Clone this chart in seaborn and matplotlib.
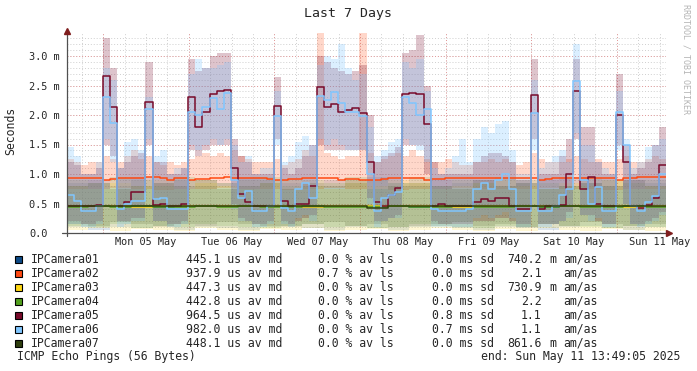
import numpy as np
import pandas as pd
import matplotlib
matplotlib.use("Agg")
import matplotlib.pyplot as plt
from matplotlib.patches import Rectangle
from matplotlib.lines import Line2D
import seaborn as sns

# --- values: 2 h bins from Sun 04 May 13:49 to Sun 11 May 13:49 ---
cameras = ["IPCamera01", "IPCamera02", "IPCamera03", "IPCamera04",
           "IPCamera05", "IPCamera06", "IPCamera07"]
colors = ["#0d4a86", "#ff4a12", "#ffd814", "#52a01e", "#780a2a", "#80c6ff", "#2f3e0e"]

# median lines (ms), 84 bins
cam05_med = [0.45, 0.45, 0.45, 0.45, 0.48, 2.66, 2.13, 0.45, 0.52, 0.70, 0.70, 2.22, 0.48, 0.50,
             0.45, 0.45, 0.50, 2.30, 1.80, 2.05, 2.35, 2.40, 2.42, 1.10, 0.66, 0.52, 0.45, 0.45,
             0.45, 2.15, 0.54, 0.45, 0.50, 0.50, 0.80, 2.47, 2.13, 2.18, 2.05, 2.08, 2.12, 2.04,
             1.20, 0.52, 0.45, 0.65, 0.77, 2.35, 2.37, 2.35, 1.85, 0.45, 0.50, 0.45, 0.45, 0.45,
             0.45, 0.53, 0.57, 0.55, 0.60, 0.60, 0.45, 0.40, 0.40, 2.34, 0.40, 0.45, 0.45, 0.48,
             1.00, 2.40, 0.75, 0.95, 0.50, 0.45, 0.45, 2.00, 1.20, 0.45, 0.42, 0.48, 0.60, 1.15]
cam06_med = [0.65, 0.55, 0.38, 0.38, 0.46, 2.30, 1.86, 0.40, 0.50, 0.54, 0.54, 2.10, 0.58, 0.60,
             0.40, 0.40, 0.40, 2.05, 2.00, 2.14, 2.28, 2.10, 2.37, 0.90, 0.60, 0.71, 0.38, 0.38,
             0.46, 1.98, 0.42, 0.38, 0.75, 0.85, 0.60, 2.33, 2.25, 2.39, 2.20, 2.05, 2.05, 1.98,
             1.00, 0.38, 0.60, 0.65, 0.70, 2.30, 2.20, 2.00, 2.10, 0.40, 0.38, 0.38, 0.38, 0.38,
             0.40, 0.75, 0.85, 0.75, 0.90, 1.00, 0.75, 0.38, 0.38, 2.03, 0.38, 0.38, 0.45, 0.65,
             0.75, 2.58, 0.90, 0.50, 0.78, 0.38, 0.38, 2.05, 1.50, 0.45, 0.38, 0.52, 0.62, 1.00]
cam02_med = [0.93, 0.93, 0.93, 0.93, 0.93, 0.90, 0.92, 0.93, 0.93, 0.94, 0.94, 0.95, 0.95, 0.93,
             0.90, 0.93, 0.93, 0.90, 0.92, 0.92, 0.94, 0.94, 0.95, 0.93, 0.93, 0.93, 0.93, 0.93,
             0.92, 0.90, 0.89, 0.92, 0.92, 0.94, 0.94, 0.94, 0.93, 0.93, 0.90, 0.92, 0.92, 0.89,
             0.89, 0.90, 0.91, 0.93, 0.93, 0.94, 0.94, 0.94, 0.90, 0.92, 0.92, 0.93, 0.93, 0.93,
             0.93, 0.93, 0.93, 0.93, 0.93, 0.93, 0.93, 0.93, 0.93, 0.93, 0.90, 0.92, 0.93, 0.93,
             0.93, 0.94, 0.94, 0.93, 0.93, 0.93, 0.93, 0.90, 0.94, 0.94, 0.95, 0.95, 0.95, 0.95]
# the quiet cameras, 6 h bins (28)
cam01_med = [0.45, 0.45, 0.45, 0.45, 0.44, 0.45, 0.45, 0.45, 0.45, 0.45, 0.45, 0.44, 0.45, 0.45,
             0.45, 0.45, 0.44, 0.45, 0.45, 0.45, 0.45, 0.45, 0.44, 0.45, 0.45, 0.45, 0.45, 0.45]
cam03_med = [0.45, 0.45, 0.45, 0.44, 0.45, 0.45, 0.45, 0.45, 0.45, 0.45, 0.45, 0.44, 0.45, 0.45,
             0.45, 0.45, 0.45, 0.45, 0.44, 0.45, 0.45, 0.45, 0.45, 0.45, 0.45, 0.45, 0.44, 0.45]
cam04_med = [0.44, 0.45, 0.44, 0.45, 0.44, 0.44, 0.45, 0.44, 0.45, 0.44, 0.44, 0.45, 0.44, 0.44,
             0.44, 0.45, 0.44, 0.44, 0.45, 0.44, 0.44, 0.45, 0.44, 0.45, 0.44, 0.44, 0.45, 0.44]
cam07_med = [0.45, 0.45, 0.46, 0.45, 0.45, 0.46, 0.45, 0.45, 0.45, 0.45, 0.46, 0.45, 0.45, 0.45,
             0.42, 0.45, 0.45, 0.46, 0.45, 0.45, 0.45, 0.46, 0.45, 0.45, 0.45, 0.46, 0.46, 0.46]

# smoke (ping spread), 84 bins
cam05_hi = [1.20, 1.15, 1.00, 1.00, 1.10, 3.30, 2.80, 1.10, 1.20, 1.30, 1.35, 2.90, 1.20, 1.20,
            1.00, 1.00, 1.10, 2.95, 2.75, 2.80, 3.00, 3.05, 3.05, 1.60, 1.30, 1.20, 1.00, 1.00,
            1.00, 2.65, 1.10, 1.00, 1.10, 1.30, 1.50, 3.00, 2.90, 2.80, 2.75, 2.70, 2.75, 2.85,
            2.00, 1.20, 1.30, 1.35, 1.45, 3.05, 3.10, 3.35, 2.50, 1.20, 1.00, 1.00, 1.00, 1.00,
            1.00, 1.20, 1.30, 1.35, 1.35, 1.30, 1.20, 0.90, 0.90, 2.95, 1.00, 1.00, 1.00, 1.30,
            1.60, 2.95, 1.80, 1.80, 1.20, 1.00, 1.00, 2.70, 1.50, 1.00, 1.10, 1.20, 1.50, 1.80]
cam05_lo = [0.20, 0.20, 0.15, 0.15, 0.20, 1.50, 1.30, 0.20, 0.20, 0.25, 0.25, 1.50, 0.20, 0.20,
            0.15, 0.15, 0.20, 1.40, 1.30, 1.40, 1.50, 1.50, 1.50, 0.50, 0.25, 0.20, 0.15, 0.15,
            0.20, 1.60, 0.20, 0.15, 0.20, 0.25, 0.30, 1.50, 1.40, 1.40, 1.40, 1.40, 1.40, 1.40,
            0.60, 0.20, 0.20, 0.25, 0.30, 1.50, 1.50, 1.50, 1.00, 0.20, 0.15, 0.15, 0.15, 0.15,
            0.15, 0.20, 0.20, 0.20, 0.25, 0.25, 0.20, 0.15, 0.15, 1.60, 0.15, 0.15, 0.15, 0.20,
            0.35, 1.60, 0.30, 0.30, 0.20, 0.15, 0.15, 1.50, 0.50, 0.15, 0.15, 0.20, 0.25, 0.35]
cam06_hi = [1.45, 1.30, 1.00, 1.00, 1.20, 2.80, 2.60, 1.10, 1.55, 1.60, 1.40, 2.30, 1.30, 1.40,
            1.00, 1.10, 1.10, 2.70, 2.95, 2.80, 2.80, 2.85, 2.90, 1.50, 1.20, 1.30, 1.00, 1.10,
            1.10, 2.40, 1.20, 1.30, 1.55, 1.65, 1.50, 2.85, 3.00, 2.95, 3.20, 2.80, 2.60, 2.70,
            1.80, 1.30, 1.40, 1.55, 1.60, 2.90, 2.80, 2.95, 2.40, 1.10, 1.00, 1.10, 1.30, 1.60,
            1.20, 1.60, 1.80, 1.70, 1.85, 1.90, 1.40, 1.00, 1.00, 2.60, 1.10, 1.20, 1.30, 1.40,
            1.20, 3.20, 1.50, 1.50, 1.20, 1.10, 1.00, 2.40, 1.60, 1.10, 1.20, 1.45, 1.50, 1.60]
cam06_lo = [0.15, 0.15, 0.10, 0.10, 0.15, 1.60, 1.20, 0.10, 0.15, 0.20, 0.20, 1.60, 0.20, 0.20,
            0.10, 0.10, 0.15, 1.50, 1.40, 1.50, 1.60, 1.50, 1.60, 0.40, 0.20, 0.20, 0.10, 0.10,
            0.15, 1.50, 0.15, 0.10, 0.25, 0.30, 0.20, 1.60, 1.50, 1.60, 1.50, 1.40, 1.40, 1.40,
            0.50, 0.10, 0.20, 0.25, 0.25, 1.60, 1.50, 1.40, 1.20, 0.10, 0.10, 0.10, 0.10, 0.10,
            0.10, 0.25, 0.30, 0.25, 0.30, 0.35, 0.25, 0.10, 0.10, 1.40, 0.10, 0.10, 0.15, 0.20,
            0.25, 1.70, 0.30, 0.20, 0.25, 0.10, 0.10, 1.40, 0.50, 0.15, 0.10, 0.15, 0.20, 0.30]
cam02_hi = [1.25, 1.20, 1.15, 1.20, 1.20, 1.30, 1.25, 1.20, 1.30, 1.40, 1.25, 1.30, 1.20, 1.15,
            1.20, 1.15, 1.20, 1.25, 1.30, 1.35, 1.30, 1.35, 1.30, 1.40, 1.30, 1.25, 1.20, 1.20,
            1.20, 1.25, 1.15, 1.20, 1.25, 1.40, 1.30, 3.40, 1.35, 1.30, 1.25, 1.30, 1.30, 3.40,
            1.35, 1.20, 1.25, 1.30, 1.35, 1.30, 1.40, 1.30, 1.25, 1.20, 1.20, 1.25, 1.20, 1.15,
            1.15, 1.20, 1.20, 1.25, 1.20, 1.25, 1.20, 1.15, 1.20, 1.35, 1.25, 1.20, 1.20, 1.20,
            1.25, 1.30, 1.25, 1.20, 1.25, 1.20, 1.20, 1.25, 1.30, 1.20, 1.20, 1.25, 1.30, 1.25]
# 6 h bins (28)
cam02_lo = [0.75, 0.74, 0.76, 0.75, 0.73, 0.75, 0.74, 0.76, 0.75, 0.74, 0.73, 0.75, 0.76, 0.74,
            0.75, 0.73, 0.75, 0.74, 0.76, 0.75, 0.74, 0.75, 0.76, 0.74, 0.75, 0.73, 0.75, 0.74]
cam01_hi = [0.85, 0.90, 0.80, 0.95, 0.85, 0.90, 0.80, 0.85, 0.95, 0.90, 0.85, 0.80, 0.90, 0.85,
            0.95, 0.85, 0.80, 0.90, 0.85, 0.90, 0.80, 0.85, 0.90, 0.95, 0.85, 0.80, 0.90, 0.85]
cam01_lo = [0.10, 0.05, 0.10, 0.08, 0.12, 0.05, 0.10, 0.08, 0.05, 0.10, 0.12, 0.08, 0.05, 0.10,
            0.08, 0.05, 0.10, 0.12, 0.08, 0.05, 0.10, 0.08, 0.05, 0.10, 0.12, 0.08, 0.05, 0.10]
cam03_hi = [0.80, 0.75, 0.85, 0.80, 0.90, 0.75, 0.85, 0.80, 0.75, 0.85, 0.90, 0.80, 0.75, 0.85,
            0.80, 0.90, 0.85, 0.75, 0.80, 0.85, 0.90, 0.80, 0.75, 0.85, 0.80, 0.90, 0.75, 0.80]
cam03_lo = [0.05, 0.08, 0.03, 0.06, 0.05, 0.04, 0.08, 0.05, 0.03, 0.06, 0.05, 0.08, 0.04, 0.05,
            0.06, 0.03, 0.05, 0.08, 0.05, 0.04, 0.06, 0.03, 0.08, 0.05, 0.04, 0.06, 0.05, 0.03]
cam04_hi = [0.90, 0.85, 0.95, 0.90, 0.80, 0.95, 0.90, 0.85, 0.90, 0.95, 0.80, 0.90, 0.85, 0.95,
            0.90, 0.85, 0.95, 0.80, 0.90, 0.85, 0.95, 0.90, 0.85, 0.80, 0.95, 0.90, 0.85, 0.90]
cam04_lo = [0.12, 0.10, 0.15, 0.08, 0.12, 0.10, 0.15, 0.12, 0.10, 0.08, 0.12, 0.15, 0.10, 0.12,
            0.08, 0.10, 0.15, 0.12, 0.10, 0.08, 0.12, 0.10, 0.15, 0.12, 0.10, 0.08, 0.12, 0.10]
cam07_hi = [0.80, 0.85, 0.75, 0.80, 0.85, 0.80, 0.90, 0.75, 0.80, 0.85, 0.75, 0.85, 0.80, 0.90,
            0.75, 0.80, 0.85, 0.80, 0.75, 0.90, 0.80, 0.85, 0.75, 0.80, 0.85, 0.80, 0.90, 0.80]
cam07_lo = [0.15, 0.12, 0.18, 0.15, 0.10, 0.15, 0.12, 0.18, 0.15, 0.12, 0.10, 0.15, 0.18, 0.12,
            0.15, 0.10, 0.12, 0.15, 0.18, 0.12, 0.15, 0.10, 0.15, 0.12, 0.18, 0.15, 0.12, 0.15]

# legend statistics
med_us = [445.1, 937.9, 447.3, 442.8, 964.5, 982.0, 448.1]
loss_pct = [0.0, 0.7, 0.0, 0.0, 0.0, 0.0, 0.0]
sd_ms = [0.0, 0.0, 0.0, 0.0, 0.8, 0.7, 0.0]
amas_val = [740.2, 2.1, 730.9, 2.2, 1.1, 1.1, 861.6]
amas_unit = ["m", "", "m", "", "", "", "m"]

W, H = 697, 371
start = pd.Timestamp("2025-05-04 13:49:05")
hours = np.arange(0, 170, 2)  # bin edges, 0..168


def to84(a):
    a = np.asarray(a, dtype=float)
    if len(a) == 28:
        a = np.repeat(a, 3)
    return np.append(a, a[-1])


meds = [cam01_med, cam02_med, cam03_med, cam04_med, cam05_med, cam06_med, cam07_med]
his = [cam01_hi, cam02_hi, cam03_hi, cam04_hi, cam05_hi, cam06_hi, cam07_hi]
los = [cam01_lo, cam02_lo, cam03_lo, cam04_lo, cam05_lo, cam06_lo, cam07_lo]
smoke_alpha = [0.15, 0.22, 0.18, 0.15, 0.24, 0.28, 0.14]

sns.set_style("white")
plt.rcParams["font.family"] = ["DejaVu Sans Mono"]

fig = plt.figure(figsize=(W / 100, H / 100), dpi=100)
fig.patch.set_facecolor("white")
ax = fig.add_axes([67 / W, (H - 233) / H, 599 / W, 200 / H])
ymax = 200 / 59
ax.set_xlim(0, 168)
ax.set_ylim(0, ymax)
for s in ax.spines.values():
    s.set_visible(False)

# grid
days = pd.date_range("2025-05-05", periods=7, freq="D")
midnights = (days - start) / pd.Timedelta(hours=1)
noons = midnights + 12
six = (pd.date_range("2025-05-04 18:00", "2025-05-11 12:00", freq="6h") - start) / pd.Timedelta(hours=1)
for h in six:
    ax.axvline(h, color="#cfcfcf", lw=0.7, ls=(0, (1, 2)), zorder=0)
for yv in np.arange(0.1, 3.35, 0.1):
    ax.axhline(yv, color="#cfcfcf", lw=0.7, ls=(0, (1, 2)), zorder=0)
for h in midnights:
    ax.axvline(h, color="#e49a9a", lw=0.7, ls=(0, (1, 2)), zorder=0.5)
for yv in np.arange(0.5, 3.1, 0.5):
    ax.axhline(yv, color="#e49a9a", lw=0.7, ls=(0, (1, 2)), zorder=0.5)

# smoke
for i in range(7):
    ax.fill_between(hours, to84(los[i]), to84(his[i]), step="post", color=colors[i],
                    alpha=smoke_alpha[i], lw=0, zorder=1)

# median lines
for i in range(7):
    df = pd.DataFrame({"hour": hours, "value": to84(meds[i])})
    sns.lineplot(data=df, x="hour", y="value", ax=ax, color=colors[i], lw=1.1,
                 drawstyle="steps-post", estimator=None, sort=False, zorder=2 + i)

ax.set_xlabel("")
ax.set_ylabel("")
ax.set_xticks(noons)
ax.set_xticklabels(days.strftime("%a %d %b"), fontsize=7.4)
ax.set_yticks(np.arange(0, 3.1, 0.5))
ax.set_yticklabels(["0.0"] + [f"{v:.1f} m" for v in np.arange(0.5, 3.1, 0.5)], fontsize=7.4)
ax.tick_params(axis="x", length=0, pad=3)
ax.tick_params(axis="y", length=0, pad=27.4)
for lab in ax.get_yticklabels():
    lab.set_horizontalalignment("left")

# axes with arrows (figure pixels)
def fx(px):
    return px / W


def fy(py):
    return 1 - py / H


fig.add_artist(Line2D([fx(67), fx(67)], [fy(236), fy(32)], color="#505050", lw=0.9))
fig.add_artist(Line2D([fx(62), fx(667)], [fy(233), fy(233)], color="#505050", lw=0.9))
fig.add_artist(Line2D([fx(67)], [fy(31)], marker="^", ms=4.5, color="#7f1d1d", lw=0))
fig.add_artist(Line2D([fx(669)], [fy(233)], marker=">", ms=4.5, color="#7f1d1d", lw=0))

fig.text(fx(348), fy(13), "Last 7 Days", ha="center", va="center", fontsize=9.5)
fig.text(fx(11), fy(131), "Seconds", ha="center", va="center", rotation=90, fontsize=8.3)
fig.text(fx(686), fy(59), "RRDTOOL / TOBI OETIKER", ha="center", va="center",
         rotation=270, fontsize=6.0, color="#b4b4b4")

# legend
fs = 8.3
for i, name in enumerate(cameras):
    yc = 259.3 + 14 * i
    fig.add_artist(Rectangle((fx(15), fy(yc + 3.8)), 7 / W, 7.5 / H, transform=fig.transFigure,
                             facecolor=colors[i], edgecolor="black", lw=0.8))
    fig.text(fx(30.7), fy(yc), name, ha="left", va="center", fontsize=fs)
    fig.text(fx(185.7), fy(yc), f"{med_us[i]:5.1f} us av md", ha="left", va="center", fontsize=fs)
    fig.text(fx(318.3), fy(yc), f"{loss_pct[i]:.1f} % av ls", ha="left", va="center", fontsize=fs)
    fig.text(fx(431.7), fy(yc), f"{sd_ms[i]:.1f} ms sd", ha="left", va="center", fontsize=fs)
    fig.text(fx(541.5), fy(yc), f"{amas_val[i]:.1f}", ha="right", va="center", fontsize=fs)
    if amas_unit[i]:
        fig.text(fx(549), fy(yc), amas_unit[i], ha="left", va="center", fontsize=fs)
    fig.text(fx(563.3), fy(yc), "am/as", ha="left", va="center", fontsize=fs)

fig.text(fx(16.7), fy(356.7), "ICMP Echo Pings (56 Bytes)", ha="left", va="center", fontsize=fs)
fig.text(fx(680.5), fy(356.7), "end: Sun May 11 13:49:05 2025", ha="right", va="center", fontsize=fs)

fig.savefig("out.png", dpi=100, facecolor="white")
